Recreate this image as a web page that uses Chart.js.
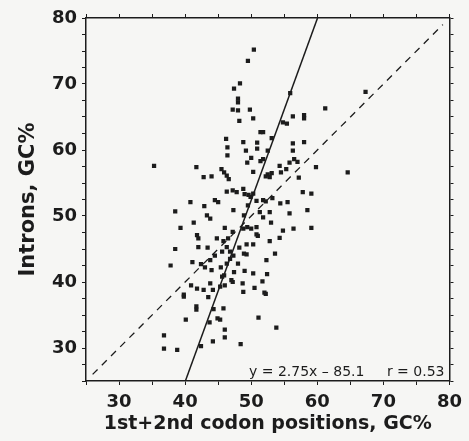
<!DOCTYPE html>
<html>
<head>
<meta charset="utf-8">
<script src="https://cdn.jsdelivr.net/npm/chart.js@4"></script>
<style>
  html, body { margin: 0; padding: 0; background: #f6f6f4; }
</style>
</head>
<body>
<canvas id="myChart" width="469" height="441"></canvas>
<script>
// scatter values (x = 1st+2nd codon GC%, y = intron GC%)
var xValues = [
  50.4, 49.5, 48.3, 47.4, 48.0, 48.0, 47.2, 48.0, 49.8, 48.2, 50.3, 55.9, 56.3, 58.0, 58.0, 61.2, 67.3,
  55.4, 51.4, 51.8, 53.1, 46.2, 46.4, 46.4, 48.8, 49.2, 50.9, 50.9, 52.5, 56.3, 56.3, 58.0, 54.8,
  35.3, 41.7, 42.8, 44.0, 45.5, 45.9, 46.3, 46.6, 49.4, 50.3, 51.4, 51.8, 52.5, 52.8, 52.2, 53.1,
  54.3, 54.5, 55.3, 55.8, 57.0, 57.2, 59.8, 64.6, 56.5, 50.0,
  46.3, 47.2, 47.8, 48.8, 49.0, 50.3, 44.5, 45.0, 40.8, 42.9, 38.5, 43.3, 43.8, 41.3, 39.3, 46.0,
  47.3, 48.8, 49.4, 50.8, 51.8, 51.3, 51.8, 50.8, 52.8, 53.2, 54.4, 55.5, 55.8, 57.8, 59.1, 58.5,
  59.1, 56.4, 54.8, 53.0, 49.9, 49.5, 48.9, 50.0, 49.6, 52.2,
  50.8, 54.3, 52.8, 41.8, 42.0, 38.5, 42.0, 43.4, 44.8, 45.8, 46.5, 46.8, 47.3, 48.2, 49.3, 49.3,
  46.3, 45.6, 48.9, 50.3, 51.0, 47.2,
  37.8, 41.1, 42.4, 43.8, 44.5, 44.0, 45.4, 45.6, 46.3, 47.0, 47.4, 49.0, 50.3, 52.3, 51.7, 52.4,
  53.6, 45.9, 47.2, 46.8, 43.0, 48.0,
  50.5, 52.0, 52.2, 48.7, 48.8, 45.3, 39.8, 39.8, 40.9, 41.8, 43.8, 44.2, 43.5, 46.0, 41.7, 41.7,
  44.3, 45.8, 42.8,
  44.9, 45.3, 40.1, 43.7, 46.0, 46.0, 44.2, 42.4, 48.4, 36.8, 36.8, 38.8, 51.1, 53.8
]
var yValues = [
  75.2, 73.5, 70.1, 69.3, 67.8, 67.2, 66.1, 66.0, 66.1, 64.4, 64.8, 68.6, 65.1, 65.3, 64.8, 66.3, 68.8,
  64.0, 62.7, 62.7, 61.8, 61.7, 60.4, 59.2, 61.2, 59.9, 61.1, 60.2, 59.9, 61.0, 59.9, 61.2, 64.2,
  57.6, 57.4, 55.9, 56.0, 57.1, 56.6, 56.1, 55.6, 58.1, 56.7, 58.3, 58.6, 56.3, 55.9, 56.0, 56.5,
  57.6, 56.6, 57.1, 58.1, 58.2, 55.8, 57.4, 56.6, 58.6, 58.8,
  53.7, 53.9, 53.6, 54.1, 53.3, 53.4, 52.4, 52.1, 52.1, 51.5, 50.7, 50.1, 49.6, 49.0, 48.2, 48.2,
  50.9, 48.1, 48.3, 52.3, 52.4, 50.6, 49.8, 48.3, 50.6, 52.7, 51.9, 52.1, 50.4, 53.6, 53.4, 50.9,
  48.2, 48.1, 47.8, 49.0, 52.9, 51.6, 50.1, 48.1, 53.2, 52.2,
  47.2, 46.7, 46.2, 47.1, 46.6, 45.0, 45.3, 45.2, 46.6, 46.2, 46.6, 44.6, 44.0, 45.2, 45.7, 44.2,
  45.3, 44.6, 44.3, 45.7, 47.0, 47.6,
  42.5, 43.0, 42.7, 43.3, 44.0, 41.8, 42.2, 40.8, 42.8, 40.3, 41.5, 41.7, 41.3, 43.3, 40.1, 41.2,
  44.3, 41.0, 40.0, 43.5, 42.2, 42.8,
  39.1, 38.4, 38.2, 39.8, 38.5, 39.3, 38.1, 37.8, 39.5, 39.0, 39.8, 38.8, 37.7, 39.5, 36.3, 35.8,
  35.9, 36.0, 38.8,
  34.5, 34.3, 34.3, 33.9, 32.8, 31.6, 31.0, 30.3, 30.6, 31.9, 29.9, 29.7, 34.6, 33.1
]

// fitted line y = 2.75x - 85.1, drawn between these y values
var fitSlope = 2.75
var fitIntercept = -85.1
var fitYEnds = [25, 80]
// dashed y = x diagonal
var diagEnds = [26, 79]

var xTickLabels = [30, 40, 50, 60, 70, 80]
var yTickLabels = [30, 40, 50, 60, 70, 80]
var eqText = 'y = 2.75x \u2013 85.1'
var rText = 'r = 0.53'

var points = xValues.map(function (x, i) { return { x: x, y: yValues[i] } })
var fitLine = fitYEnds.map(function (y) { return { x: (y - fitIntercept) / fitSlope, y: y } })
var diagLine = diagEnds.map(function (v) { return { x: v, y: v } })

var ink = '#1c1c1c'
var boldFont = { family: 'DejaVu Sans', weight: 'bold', size: 18 }

// equation text in the lower right corner
var notePlugin = {
  id: 'note',
  afterDatasetsDraw: function (chart) {
    var ctx = chart.ctx, a = chart.chartArea
    ctx.save()
    ctx.font = '14px "DejaVu Sans"'
    ctx.fillStyle = ink
    ctx.textAlign = 'right'
    ctx.textBaseline = 'alphabetic'
    ctx.fillText(eqText, a.right - 85, a.bottom - 5)
    ctx.fillText(rText, a.right - 5, a.bottom - 5)
    ctx.restore()
  }
}

function sideAxis(position, size) {
  var horizontal = position === 'top'
  return {
    type: 'linear',
    position: position,
    min: 25,
    max: 80,
    ticks: { display: false, stepSize: horizontal ? 5 : 2.5, autoSkip: false },
    grid: { drawOnChartArea: false, tickLength: 4, color: ink },
    border: { color: ink, width: 1.5 },
    afterFit: function (s) { if (horizontal) s.height = size; else s.width = size }
  }
}

var ctx = document.getElementById('myChart').getContext('2d')
var chart = new Chart(ctx, {
  type: 'scatter',
  data: {
    datasets: [{
      data: points,
      pointStyle: 'rect',
      pointRadius: 3,
      pointBackgroundColor: ink,
      pointBorderWidth: 0,
      order: 0
    }, {
      type: 'line',
      data: fitLine,
      borderColor: ink,
      borderWidth: 1.5,
      pointRadius: 0,
      fill: false,
      order: 1
    }, {
      type: 'line',
      data: diagLine,
      borderColor: ink,
      borderWidth: 1.3,
      borderDash: [7, 6],
      pointRadius: 0,
      fill: false,
      order: 2
    }]
  },
  options: {
    responsive: false,
    animation: false,
    layout: { padding: 0 },
    plugins: { legend: { display: false }, tooltip: { enabled: false } },
    scales: {
      x: {
        type: 'linear',
        position: 'bottom',
        min: 25,
        max: 80,
        ticks: {
          stepSize: 5,
          autoSkip: false,
          maxRotation: 0,
          padding: 7,
          color: ink,
          font: boldFont,
          callback: function (v) { return xTickLabels.indexOf(v) >= 0 ? v : '' }
        },
        grid: { drawOnChartArea: false, tickLength: 4, color: ink },
        border: { color: ink, width: 1.5 },
        title: {
          display: true,
          text: '1st+2nd codon positions, GC%',
          color: ink,
          font: { family: 'DejaVu Sans', weight: 'bold', size: 19 },
          padding: { top: 0, bottom: 6 }
        },
        afterFit: function (s) { s.height = 60 }
      },
      y: {
        type: 'linear',
        position: 'left',
        min: 25,
        max: 80,
        ticks: {
          stepSize: 2.5,
          autoSkip: false,
          padding: 5,
          color: ink,
          font: boldFont,
          callback: function (v) { return yTickLabels.indexOf(v) >= 0 ? v : '' }
        },
        grid: { drawOnChartArea: false, tickLength: 4, color: ink },
        border: { color: ink, width: 1.5 },
        title: {
          display: true,
          text: 'Introns, GC%',
          color: ink,
          font: { family: 'DejaVu Sans', weight: 'bold', size: 21 },
          padding: { top: 16, bottom: 0 }
        },
        afterFit: function (s) { s.width = 86 }
      },
      x2: sideAxis('top', 18),
      y2: sideAxis('right', 14)
    }
  },
  plugins: [notePlugin]
})
</script>
</body>
</html>
